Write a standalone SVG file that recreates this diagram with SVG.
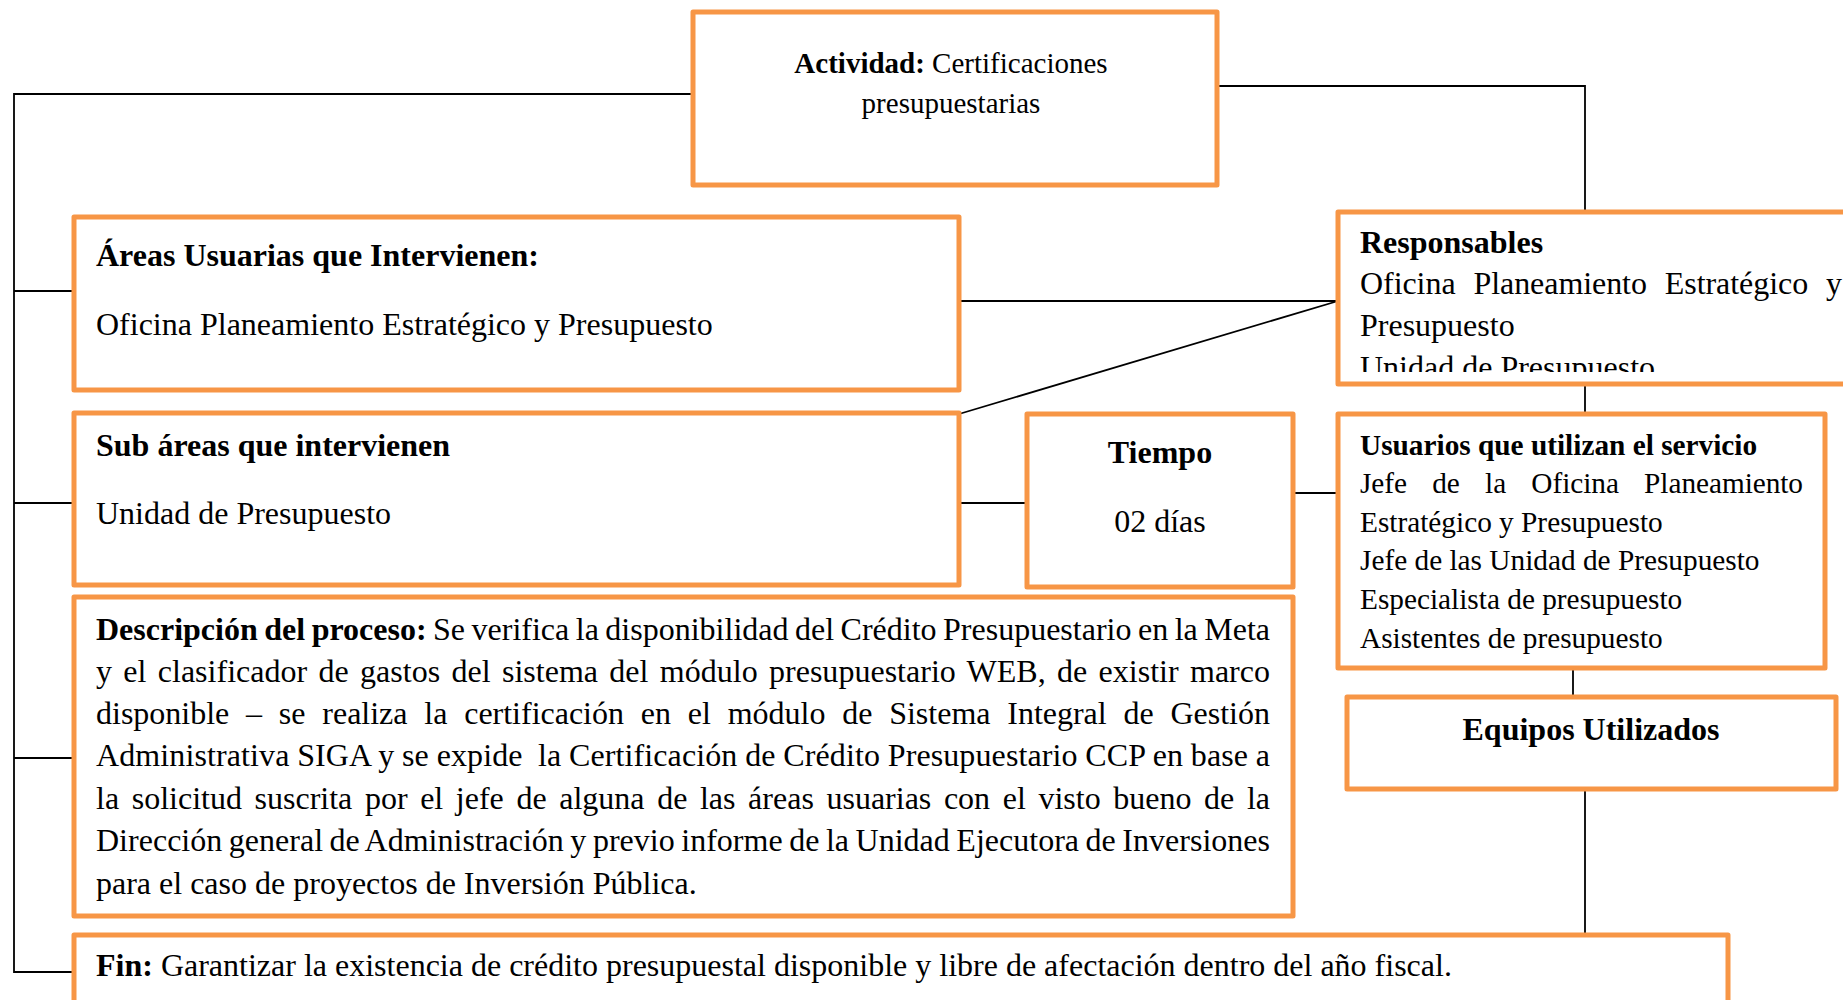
<svg xmlns="http://www.w3.org/2000/svg" width="1843" height="1000" viewBox="0 0 1843 1000">
<defs>
<style>
.box{fill:#fff;stroke:#F79646;stroke-width:5;stroke-linejoin:round}
.ln{fill:none;stroke:#000;stroke-width:1.8}
text{font-family:"Liberation Serif","Times New Roman",serif;fill:#000}
.t32{font-size:32px}
.t29{font-size:29.3px}
.b{font-weight:bold}
.mid{text-anchor:middle}
</style>
<clipPath id="clipResp"><rect x="1340" y="215" width="503" height="157"/></clipPath>
</defs>
<rect width="1843" height="1000" fill="#fff"/>
<g id="connectors">
<polyline class="ln" points="693,94 14,94 14,972 74,972"/>
<line class="ln" x1="14" y1="291" x2="74" y2="291"/>
<line class="ln" x1="14" y1="503" x2="74" y2="503"/>
<line class="ln" x1="14" y1="758" x2="74" y2="758"/>
<polyline class="ln" points="1217,86 1585,86 1585,212"/>
<line class="ln" x1="959" y1="301" x2="1338" y2="301"/>
<line class="ln" x1="959" y1="414" x2="1338" y2="301"/>
<line class="ln" x1="959" y1="503" x2="1027" y2="503"/>
<line class="ln" x1="1293" y1="493" x2="1338" y2="493"/>
<line class="ln" x1="1585" y1="384" x2="1585" y2="414"/>
<line class="ln" x1="1573" y1="668" x2="1573" y2="697"/>
<line class="ln" x1="1585" y1="789" x2="1585" y2="935"/>
</g>
<g id="actividad">
<rect class="box" x="693" y="12" width="524" height="173"/>
<text class="mid" x="951" y="73" font-size="29"><tspan class="b">Actividad:</tspan> Certificaciones</text>
<text class="mid" x="951" y="113" font-size="29">presupuestarias</text>
</g>
<g id="areas">
<rect class="box" x="74" y="217" width="885" height="173"/>
<text class="t32 b" x="96" y="265.5">Áreas Usuarias que Intervienen:</text>
<text class="t32" x="96" y="334.5">Oficina Planeamiento Estratégico y Presupuesto</text>
</g>
<g id="responsables">
<rect class="box" x="1338" y="212" width="530" height="172"/>
<g clip-path="url(#clipResp)">
<text class="t32 b" x="1360" y="253">Responsables</text>
<text class="t32" x="1360" y="294" word-spacing="10" textLength="482" lengthAdjust="spacing">Oficina Planeamiento Estratégico y</text>
<text class="t32" x="1360" y="336">Presupuesto</text>
<text class="t32" x="1360" y="378">Unidad de Presupuesto</text>
</g>
</g>
<g id="subareas">
<rect class="box" x="74" y="413" width="885" height="172"/>
<text class="t32 b" x="96" y="456">Sub áreas que intervienen</text>
<text class="t32" x="96" y="524">Unidad de Presupuesto</text>
</g>
<g id="tiempo">
<rect class="box" x="1027" y="414" width="266" height="173"/>
<text class="t32 b mid" x="1160" y="463">Tiempo</text>
<text class="t32 mid" x="1160" y="531.5">02 días</text>
</g>
<g id="usuarios">
<rect class="box" x="1338" y="414" width="487" height="254"/>
<text class="t29 b" x="1360" y="454.5">Usuarios que utilizan el servicio</text>
<text class="t29" x="1360" y="493" word-spacing="18" textLength="443" lengthAdjust="spacing">Jefe de la Oficina Planeamiento</text>
<text class="t29" x="1360" y="531.5">Estratégico y Presupuesto</text>
<text class="t29" x="1360" y="570">Jefe de las Unidad de Presupuesto</text>
<text class="t29" x="1360" y="609">Especialista de presupuesto</text>
<text class="t29" x="1360" y="648">Asistentes de presupuesto</text>
</g>
<g id="descripcion">
<rect class="box" x="74" y="597" width="1219" height="319"/>
<text class="t32" x="96" y="639.5" word-spacing="-1.5" textLength="1174" lengthAdjust="spacing"><tspan class="b">Descripción del proceso:</tspan> Se verifica la disponibilidad del Crédito Presupuestario en la Meta</text>
<text class="t32" x="96" y="681.5" word-spacing="3.3" textLength="1174" lengthAdjust="spacing">y el clasificador de gastos del sistema del módulo presupuestario WEB, de existir marco</text>
<text class="t32" x="96" y="723.5" word-spacing="8.8" textLength="1174" lengthAdjust="spacing">disponible – se realiza la certificación en el módulo de Sistema Integral de Gestión</text>
<text class="t32" x="96" y="766" xml:space="preserve" word-spacing="-0.4" textLength="1174" lengthAdjust="spacing">Administrativa SIGA y se expide  la Certificación de Crédito Presupuestario CCP en base a</text>
<text class="t32" x="96" y="808.5" word-spacing="4.6" textLength="1174" lengthAdjust="spacing">la solicitud suscrita por el jefe de alguna de las áreas usuarias con el visto bueno de la</text>
<text class="t32" x="96" y="851" word-spacing="-1.5" textLength="1174" lengthAdjust="spacing">Dirección general de Administración y previo informe de la Unidad Ejecutora de Inversiones</text>
<text class="t32" x="96" y="894">para el caso de proyectos de Inversión Pública.</text>
</g>
<g id="equipos">
<rect class="box" x="1347" y="697" width="489" height="92"/>
<text class="t32 b mid" x="1591" y="740">Equipos Utilizados</text>
</g>
<g id="fin">
<rect class="box" x="74" y="935" width="1654" height="80"/>
<text class="t32" x="96" y="976"><tspan class="b">Fin:</tspan> Garantizar la existencia de crédito presupuestal disponible y libre de afectación dentro del año fiscal.</text>
</g>
</svg>
